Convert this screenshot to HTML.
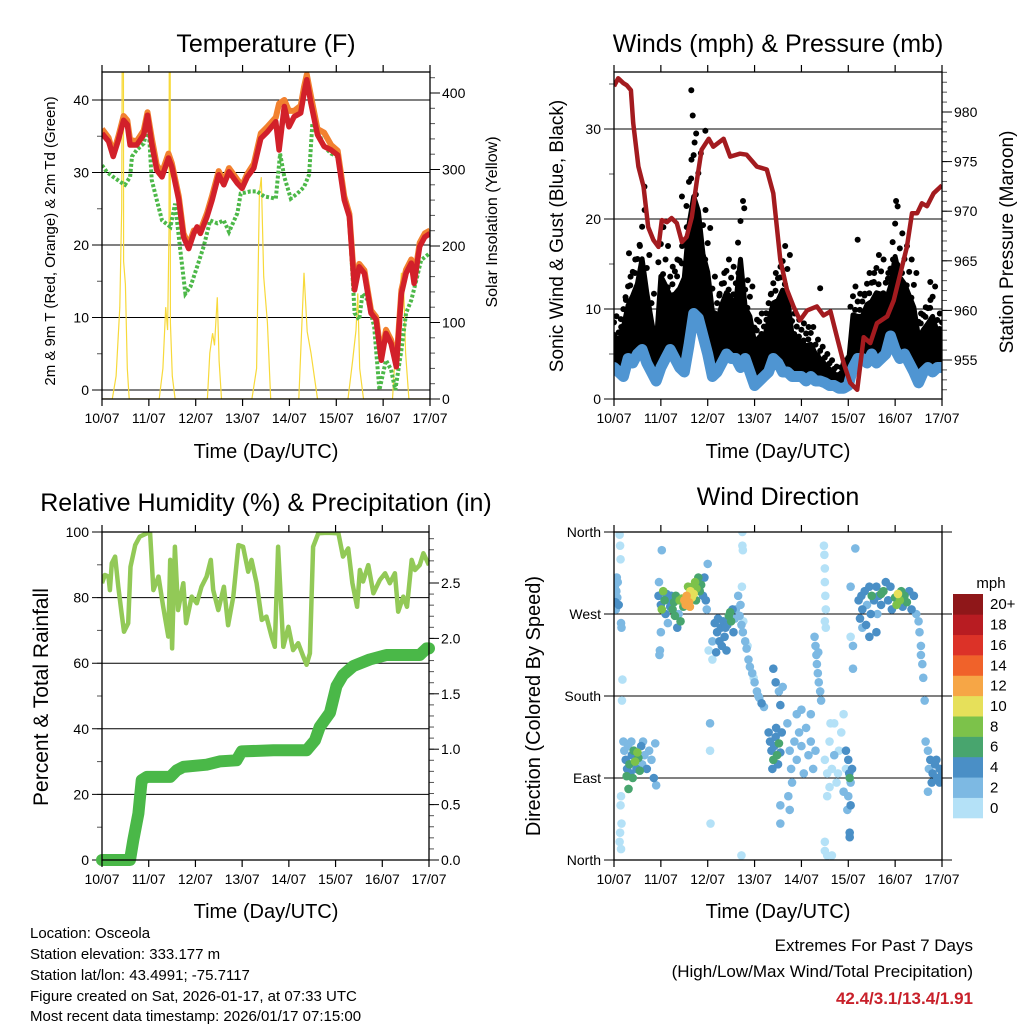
<!DOCTYPE html>
<html><head><meta charset="utf-8"><title>Station Meteogram</title>
<style>
html,body{margin:0;padding:0;background:#fff;}
svg{display:block;font-family:"Liberation Sans",Arial,sans-serif;}
</style></head>
<body>
<svg id="chart" xmlns="http://www.w3.org/2000/svg" width="1024" height="1024" viewBox="0 0 1024 1024">
<rect x="0" y="0" width="1024" height="1024" fill="#fff"/>
<defs>
<clipPath id="c1"><rect x="102" y="72" width="328" height="327"/></clipPath>
<clipPath id="c2"><rect x="614" y="72" width="328" height="327"/></clipPath>
<clipPath id="c3"><rect x="102" y="532" width="327" height="328"/></clipPath>
<clipPath id="c4"><rect x="614" y="532" width="328" height="328"/></clipPath>
</defs>
<g id="layer"></g>
<!-- titles -->
<text x="266" y="52" font-size="25" text-anchor="middle">Temperature (F)</text>
<text x="778" y="52" font-size="25" text-anchor="middle">Winds (mph) &amp; Pressure (mb)</text>
<text x="266" y="511" font-size="25" text-anchor="middle">Relative Humidity (%) &amp; Precipitation (in)</text>
<text x="778" y="505" font-size="25" text-anchor="middle">Wind Direction</text>
<!-- axis titles -->
<text transform="translate(55,241) rotate(-90)" font-size="15" text-anchor="middle">2m &amp; 9m T (Red, Orange) &amp; 2m Td (Green)</text>
<text transform="translate(497,222) rotate(-90)" font-size="16" text-anchor="middle">Solar Insolation (Yellow)</text>
<text x="266" y="458" font-size="20" text-anchor="middle">Time (Day/UTC)</text>
<text transform="translate(563,236) rotate(-90)" font-size="19" text-anchor="middle">Sonic Wind &amp; Gust (Blue, Black)</text>
<text transform="translate(1013,242) rotate(-90)" font-size="19" text-anchor="middle">Station Pressure (Maroon)</text>
<text x="778" y="458" font-size="20" text-anchor="middle">Time (Day/UTC)</text>
<text transform="translate(48,697) rotate(-90)" font-size="21" text-anchor="middle">Percent &amp; Total Rainfall</text>
<text x="266" y="918" font-size="20" text-anchor="middle">Time (Day/UTC)</text>
<text transform="translate(540,706) rotate(-90)" font-size="20" text-anchor="middle">Direction (Colored By Speed)</text>
<text x="778" y="918" font-size="20" text-anchor="middle">Time (Day/UTC)</text>
<text x="991" y="588" font-size="15" text-anchor="middle">mph</text>
<!-- footer -->
<g font-size="15">
<text x="30" y="938">Location: Osceola</text>
<text x="30" y="959">Station elevation: 333.177 m</text>
<text x="30" y="980">Station lat/lon: 43.4991; -75.7117</text>
<text x="30" y="1001">Figure created on Sat, 2026-01-17, at 07:33 UTC</text>
<text x="30" y="1021">Most recent data timestamp: 2026/01/17 07:15:00</text>
</g>
<text x="973" y="951" font-size="17" text-anchor="end">Extremes For Past 7 Days</text>
<text x="973" y="977" font-size="17" text-anchor="end">(High/Low/Max Wind/Total Precipitation)</text>
<text x="973" y="1004" font-size="17" font-weight="bold" fill="#c8202a" text-anchor="end">42.4/3.1/13.4/1.91</text>
</svg>
<script>
const dayLabels = ["10/07","11/07","12/07","13/07","14/07","15/07","16/07","17/07"];
const tempTicks = [0,10,20,30,40];
const solarTicks = [0,100,200,300,400];
const windTicks = [0,10,20,30];
const pressTicks = [955,960,965,970,975,980];
const rhTicks = [0,20,40,60,80,100];
const rainTicks = [0,0.5,1.0,1.5,2.0,2.5];
const dirTicks = [0,90,180,270,360];
const dirNames = ["North","East","South","West","North"];
const speedColors = ["#b4e1f7","#7db9e3","#4a8fc6","#48a56e","#7cc24a","#e6e05a","#f6a646","#f0622a","#dc3228","#b81c22","#8f1719"];
const speedLabels = ["0","2","4","6","8","10","12","14","16","18","20+"];

const tempOrange = [[0,36],[.14,34.8],[.24,32.6],[.35,35],[.46,37.8],[.54,37.2],[.6,34.5],[.74,34.3],[.89,35.8],[.97,38.3],[1.06,34.8],[1.17,31],[1.28,30],[1.42,32.6],[1.49,31.3],[1.64,26.7],[1.74,21.6],[1.85,20],[1.96,22],[2.1,22],[2.24,24.4],[2.35,26.8],[2.49,30.2],[2.6,28.8],[2.71,30.6],[2.89,29],[2.99,28.2],[3.1,29.8],[3.24,31.2],[3.39,35.4],[3.53,36.3],[3.71,37.6],[3.78,39.5],[3.89,40],[3.99,38.5],[4.1,38.5],[4.24,39.2],[4.31,41.8],[4.37,43.5],[4.46,40.5],[4.6,36],[4.74,35.5],[4.89,33.8],[5.03,33],[5.17,26.7],[5.28,24.3],[5.39,14.2],[5.49,17.4],[5.6,16.5],[5.74,11],[5.85,10.1],[5.96,4.6],[6.06,8.3],[6.17,6.9],[6.28,3.6],[6.39,13.8],[6.49,16.6],[6.6,18],[6.66,15.2],[6.78,20.3],[6.89,21.6],[7,22]];
const tempRed = [[0,35.4],[.14,34.3],[.24,32.2],[.35,34.5],[.46,37.2],[.54,36.6],[.6,33.8],[.74,33.8],[.89,35.2],[.97,37.9],[1.06,34.0],[1.17,30.3],[1.28,29.4],[1.42,32.0],[1.49,30.8],[1.64,26.2],[1.74,21.1],[1.85,19.5],[1.96,21.6],[2.03,22.5],[2.1,21.6],[2.24,23.9],[2.35,26.2],[2.49,29.7],[2.6,28.3],[2.71,30.1],[2.89,28.5],[2.99,27.8],[3.1,29.4],[3.24,30.6],[3.39,34.7],[3.53,35.6],[3.71,37.0],[3.78,33.1],[3.89,39.1],[3.99,36.3],[4.1,37.7],[4.24,38.2],[4.31,40.9],[4.37,42.8],[4.46,39.5],[4.6,35.2],[4.74,33.6],[4.89,33.1],[5.03,32.4],[5.17,26.2],[5.28,23.9],[5.39,13.8],[5.49,17.0],[5.6,16.1],[5.74,10.6],[5.85,9.7],[5.96,4.1],[6.06,7.8],[6.17,6.4],[6.28,3.2],[6.39,13.3],[6.49,16.1],[6.6,17.5],[6.66,14.7],[6.78,19.8],[6.89,21.1],[7,21.6]];
const dewGreen = [[0,31.0],[.1,30.1],[.24,29.4],[.39,28.7],[.49,28.3],[.6,29.4],[.64,32.2],[.74,33.1],[.89,34.0],[.99,36.8],[1.06,29.0],[1.17,26.2],[1.28,23.4],[1.46,22.5],[1.56,25.7],[1.67,19.3],[1.78,13.3],[1.89,14.3],[2.03,17.0],[2.17,19.8],[2.31,23.4],[2.46,23.0],[2.6,23.4],[2.71,21.8],[2.89,24.4],[2.96,27.1],[3.17,27.4],[3.31,27.4],[3.46,26.7],[3.71,26.4],[3.8,32.6],[3.89,29.4],[4.03,26.4],[4.17,27.1],[4.31,28.0],[4.42,29.7],[4.49,36.8],[4.6,35.9],[4.74,33.6],[4.89,32.6],[5.03,32.2],[5.17,27.1],[5.28,23.4],[5.39,10.6],[5.49,9.7],[5.56,13.3],[5.67,12.4],[5.81,8.7],[5.92,0],[6.06,4.1],[6.17,2.8],[6.26,0],[6.39,5.5],[6.49,10.6],[6.6,12.4],[6.71,15.2],[6.81,17.9],[7,18.9]];
const solar = [[0,0],[.22,0],[.3,30],[.38,120],[.42,250],[.44,600],[.45,1000],[.46,180],[.5,150],[.54,40],[.58,0],[1.22,0],[1.3,40],[1.36,120],[1.4,90],[1.43,220],[1.45,1000],[1.46,100],[1.5,30],[1.56,0],[2.25,0],[2.3,60],[2.36,86],[2.4,70],[2.46,133],[2.5,50],[2.55,0],[3.2,0],[3.3,40],[3.36,269],[3.4,290],[3.45,160],[3.53,100],[3.6,0],[4.2,0],[4.31,165],[4.38,88],[4.46,60],[4.6,0],[5.25,0],[5.35,51],[5.42,90],[5.46,138],[5.5,40],[5.58,0],[6.2,0],[6.3,100],[6.35,130],[6.39,165],[6.44,140],[6.48,60],[6.55,0],[7,0]];

const pressure = [[0,982.6],[.09,983.4],[.2,982.9],[.27,982.7],[.36,982.2],[.41,978.9],[.52,974.5],[.63,972.5],[.73,968.4],[.84,967.1],[.95,966.4],[1.02,969.1],[1.13,968.9],[1.23,969.3],[1.34,968.8],[1.45,966.9],[1.55,967.4],[1.66,969.4],[1.77,973.1],[1.87,976.2],[2.02,977.3],[2.12,976.5],[2.34,977.3],[2.48,975.5],[2.69,975.8],[2.83,975.7],[3.05,974.5],[3.26,974.2],[3.4,971.8],[3.55,965.1],[3.69,962.1],[3.83,960.4],[3.97,959.0],[4.12,960.0],[4.33,960.4],[4.47,959.5],[4.62,959.9],[4.76,957.3],[4.9,954.7],[5.04,952.7],[5.19,952.0],[5.33,957.3],[5.47,956.7],[5.61,958.7],[5.83,959.4],[5.97,961.0],[6.11,963.7],[6.25,966.4],[6.36,969.8],[6.47,969.8],[6.57,970.8],[6.68,970.5],[6.82,971.8],[7,972.6]];
const windSpeed = [[0,3.5],[.1,3],[.2,2.5],[.3,4.5],[.4,4],[.5,5],[.6,5.5],[.7,4],[.8,3],[.9,2],[1,3.5],[1.1,4.5],[1.2,5.5],[1.3,4.5],[1.4,3.5],[1.5,3],[1.6,6],[1.7,9.5],[1.8,9],[1.9,7],[2,5],[2.1,2.5],[2.2,3],[2.3,4],[2.4,5],[2.5,4.5],[2.6,4.5],[2.7,3.5],[2.8,4.5],[2.9,3],[3,1.5],[3.1,2],[3.2,2.5],[3.3,3],[3.4,4.5],[3.5,4],[3.6,3],[3.7,3],[3.8,2.5],[3.9,2.5],[4,2.5],[4.1,2],[4.2,2.5],[4.3,2],[4.4,2],[4.5,1.8],[4.6,1.5],[4.7,1.5],[4.8,1.2],[4.9,1.2],[5,1.5],[5.1,3.5],[5.2,4.5],[5.3,4.5],[5.4,4],[5.5,5],[5.6,4],[5.7,4.5],[5.8,5],[5.9,7],[6,5.5],[6.1,4.5],[6.2,5],[6.3,4],[6.4,3],[6.5,1.8],[6.6,3],[6.7,3.5],[6.8,3],[6.9,3.5],[7,3.5]];
const windGust = [[0,9.2],[.1,8],[.2,11],[.3,13.6],[.4,15.5],[.5,17],[.6,21],[.7,16],[.8,11.7],[.9,8],[1,19.1],[1.1,17],[1.2,14.7],[1.3,15.5],[1.4,17],[1.5,19.1],[1.6,26.6],[1.7,29.5],[1.8,27.3],[1.9,21],[2,19],[2.1,13.6],[2.2,11.7],[2.3,14],[2.4,15.5],[2.5,14.7],[2.6,14],[2.7,22],[2.8,13.2],[2.9,12.5],[3,8.8],[3.1,9.5],[3.2,8.8],[3.3,11.7],[3.4,14],[3.5,14.7],[3.6,17],[3.7,16],[3.8,9.5],[3.9,8.8],[4,8.4],[4.1,8],[4.2,8],[4.3,6.6],[4.4,5.8],[4.5,5],[4.6,4.3],[4.7,3.6],[4.8,2.9],[4.9,4.3],[5,5],[5.1,12.5],[5.2,11.7],[5.3,11.7],[5.4,14],[5.5,14],[5.6,16],[5.7,15.5],[5.8,14],[5.9,15.5],[6,21.4],[6.1,18.4],[6.2,17],[6.3,15.5],[6.4,14],[6.5,9.5],[6.6,10.2],[6.7,11],[6.8,12.5],[6.9,9.5],[7,9.2]];
const gustOutliers = [[.65,23.6],[.32,16.2],[1.45,22.5],[1.65,34.3],[1.68,31.5],[1.72,28.5],[1.95,29.8],[2.78,21.2],[4.4,12.3],[5.2,17.7],[6.02,22],[6.75,13]];

const rh = [[0,84.4],[.06,86.9],[.14,86.4],[.17,82.3],[.21,90.5],[.28,92.5],[.35,83.3],[.42,75.2],[.47,69.6],[.56,72.2],[.61,89.4],[.71,96.0],[.81,98.6],[.96,99.6],[1.03,99.6],[1.1,82.3],[1.21,86.4],[1.31,77.2],[1.42,68.1],[1.46,91.5],[1.5,64.5],[1.56,95.5],[1.63,76.2],[1.74,84.4],[1.8,72.2],[1.92,80.3],[2.03,78.3],[2.13,83.3],[2.24,86.4],[2.33,91.5],[2.38,82.3],[2.49,76.2],[2.61,83.3],[2.7,71.6],[2.81,80.3],[2.92,96.0],[3.02,95.5],[3.13,87.9],[3.2,91.5],[3.31,84.4],[3.42,73.2],[3.52,74.2],[3.63,68.1],[3.7,65.0],[3.77,95.5],[3.88,65.0],[3.99,71.1],[4.09,64.0],[4.2,66.1],[4.31,62.0],[4.38,59.5],[4.45,63.0],[4.52,95.5],[4.63,99.6],[4.81,99.8],[5.06,99.6],[5.16,92.5],[5.27,95.0],[5.36,84.4],[5.46,77.2],[5.52,88.4],[5.59,84.9],[5.7,89.9],[5.81,81.3],[5.95,85.4],[6.06,87.4],[6.16,84.4],[6.27,87.4],[6.34,75.7],[6.45,80.3],[6.53,77.2],[6.63,91.5],[6.7,88.4],[6.8,89.9],[6.88,93.5],[7,89.9]];
const rain = [[0,0],[.6,0],[.67,.18],[.78,.42],[.85,.72],[.96,.75],[1.46,.75],[1.6,.81],[1.74,.84],[2.24,.86],[2.52,.89],[2.88,.9],[2.99,.98],[3.67,.99],[4.38,.99],[4.56,1.08],[4.66,1.2],[4.88,1.33],[5.02,1.57],[5.16,1.67],[5.38,1.75],[5.73,1.81],[6.09,1.85],[6.8,1.85],[6.95,1.91],[7,1.91]];

const dirTime = [0,.02,.03,.05,.07,.08,.1,.04,.06, .12,.13,.14,.15,.16,.18,.17,.15,.14,.13,.12,.15,.16,
.2,.22,.25,.28,.3,.33,.35,.38,.4,.42,.45,.48,.5,.52,.55,.58,.6,.62,.65,.7,.75,.8,.85,.88,.9,.27,.31,.37,
.95,1,1.02,1.05,1.08,1.1,1.12,1.15,1.18,1.2,1.22,1.25,1.28,1.3,1.32,1.35,1.38,1.4,1.42,1.45,1.48,1,.98,.97,1.02,.96,
1.5,1.55,1.6,1.63,1.68,1.7,1.73,1.76,1.8,1.83,1.86,1.9,1.93,1.96,1.98,1.53,1.58,1.66,1.75,1.62,
2,2.02,2.05,2.05,2.06,2.1,2.1,
2.15,2.2,2.22,2.25,2.28,2.3,2.33,2.36,2.4,2.42,2.45,2.48,2.5,2.53,2.55,2.58,2.18,2.38,
2.6,2.65,2.68,2.72,2.75,2.8,2.83,2.87,2.9,2.95,3,3.05,3.1,3.15,3.2,2.7,2.76,2.85,2.98,3.08,
2.74,2.74,2.75,2.73,2.72,
3.3,3.33,3.36,3.4,3.42,3.45,3.48,3.5,3.52,3.55,3.58,3.38,3.46,
3.4,3.45,3.52,3.55,3.6,3.55,3.55,3.52,
3.7,3.75,3.78,3.8,3.85,3.9,3.95,4,4.05,4.1,4.15,4.2,4.25,4.3,3.72,3.75,3.9,4,4.2,
4.28,4.3,4.32,4.33,4.35,4.37,4.4,4.42,4.36,
4.48,4.49,4.5,4.5,4.51,4.52,4.5,4.52,
4.5,4.55,4.6,4.65,4.7,4.75,4.8,4.85,4.9,4.95,4.6,4.7,4.55,4.62,4.78,4.9,
4.95,5,5.02,5.05,5,5.05,5.08,4.98,5.03,
4.5,4.5,4.55,4.65,5.03,5.03,5.05,5.05,5.1,5.1,5.15,
5.22,5.25,5.28,5.3,5.35,5.38,5.4,5.45,5.48,5.5,5.55,5.6,5.62,5.65,5.7,5.75,5.8,5.85,5.9,5.93,5.6,5.45,5.3,5.7,
6,6.03,6.06,6.1,6.13,6.16,6.2,6.25,6.3,6.35,6.4,6.45,6.5,6.52,6.55,6.55,6.58,6.6,6.63,
6.65,6.7,6.72,6.75,6.8,6.85,6.9,6.95,7,6.78,6.88,6.7,6.95];
const dirDeg = [290,300,283,295,288,305,280,275,310, 357,345,330,260,255,198,175,70,60,30,20,12,40,
130,120,110,100,125,105,95,115,90,120,108,100,118,112,98,125,105,130,115,100,120,110,90,128,82,92,78,130,
290,280,275,295,285,270,292,260,285,278,290,275,283,268,290,255,270,285,262,287,278,250,230,225,340,305,
285,290,283,295,300,292,305,298,310,295,302,290,310,285,275,280,300,288,285,278,
325,230,150,120,40,240,220,
260,250,265,240,255,235,262,245,230,258,268,272,262,275,250,265,228,255,
275,290,268,258,250,240,232,220,212,205,195,185,178,172,168,280,262,235,200,180,
360,345,340,300,5,
140,130,120,110,125,135,115,105,128,118,140,100,145,
210,195,185,170,190,60,40,140,
150,120,100,85,130,110,140,125,95,145,115,130,100,120,70,55,160,165,160,
245,235,225,215,205,195,185,175,228,
345,335,320,305,290,275,262,255,
110,95,130,100,150,85,120,140,160,100,80,115,70,150,95,75,
120,110,95,85,70,60,100,55,90,
20,10,5,5,30,25,300,245,235,210,342,
285,265,290,275,295,258,280,300,270,290,285,300,270,290,280,295,305,285,300,275,250,245,255,292,
288,280,292,285,295,278,290,283,295,275,290,270,262,250,235,225,215,200,175,
130,120,100,110,95,105,90,100,95,85,110,75,85];
const dirSpeed = [2,2,4,3,2,3,4,2,2, 0,1,1,2,2,0,0,0,1,0,0,0,0,
2,3,4,4,3,6,5,4,6,7,8,4,8,7,6,4,3,2,3,4,3,3,4,2,3,6,6,3,
4,5,8,9,6,4,4,3,4,4,5,6,7,6,6,5,3,8,6,8,7,2,2,2,2,3,
12,12,12,10,9,10,8,8,7,6,6,4,4,4,3,12,8,11,6,12,
3,1,2,1,1,2,1,
4,4,4,4,4,4,4,4,4,5,6,6,6,5,4,3,4,4,
2,2,2,2,2,2,2,2,2,2,2,2,2,4,2,2,1,1,1,2,
1,1,1,1,1,
4,4,4,6,4,4,6,4,6,4,4,4,4,
4,4,2,4,2,2,2,2,
2,2,2,2,2,2,2,2,2,2,2,2,2,2,2,2,2,2,2,
2,2,2,2,2,2,2,2,2,
0,1,0,0,0,0,1,1,
0,0,0,0,0,0,0,0,0,0,0,2,0,0,0,2,
4,4,4,3,3,4,4,3,6,
1,1,1,1,4,4,3,1,3,3,3,
4,4,5,4,4,4,3,4,4,6,5,4,3,4,4,6,5,4,4,4,4,4,3,6,
7,8,10,8,6,4,7,6,5,4,4,3,3,3,2,2,2,2,2,
2,3,3,4,4,4,4,4,4,4,4,2,4];

const NS = "http://www.w3.org/2000/svg";
const layer = document.getElementById("layer");
function mk(tag, attrs, name, parent) {
  const el = document.createElementNS(NS, tag);
  for (const k in attrs) el.setAttribute(k, attrs[k]);
  
  
  (parent || layer).appendChild(el);
  return el;
}
function txt(x, y, s, anchor, size, name) {
  const t = mk("text", {x: x, y: y, "font-size": size || 14, "text-anchor": anchor || "middle"}, name);
  t.textContent = s;
  return t;
}
function pathD(pts, fx, fy) {
  return pts.map((p, i) => (i ? "L" : "M") + fx(p[0]).toFixed(1) + "," + fy(p[1]).toFixed(1)).join("");
}

const P = {
  p1: {x0: 102, x1: 430, y0: 72, y1: 399},
  p2: {x0: 614, x1: 942, y0: 72, y1: 399},
  p3: {x0: 102, x1: 429, y0: 532, y1: 860},
  p4: {x0: 614, x1: 942, y0: 532, y1: 860}
};
const x1s = d => P.p1.x0 + d * (P.p1.x1 - P.p1.x0) / 7;
const x2s = d => P.p2.x0 + d * (P.p2.x1 - P.p2.x0) / 7;
const x3s = d => P.p3.x0 + d * (P.p3.x1 - P.p3.x0) / 7;
const x4s = d => P.p4.x0 + d * (P.p4.x1 - P.p4.x0) / 7;
const yTemp = v => 390 - v * 7.25;
const ySolar = v => 399 - v * 0.765;
const yWind = v => 399 - v * 9;
const yPress = v => 360 - (v - 955) * 9.92;
const yRH = v => 860 - v * 3.28;
const yRain = v => 860 - v * 110.8;
const yDir = v => 860 - v * (328 / 360);

function frame(p, name, xs) {
  mk("rect", {x: p.x0, y: p.y0, width: p.x1 - p.x0, height: p.y1 - p.y0, fill: "none", stroke: "#000", "stroke-width": 1.3}, name + "-frame");
  dayLabels.forEach((lab, i) => {
    const x = xs(i);
    mk("line", {x1: x, y1: p.y1, x2: x, y2: p.y1 + 7, stroke: "#000", "stroke-width": 1.2}, name + "-x-tick");
    mk("line", {x1: x, y1: p.y0, x2: x, y2: p.y0 - 7, stroke: "#000", "stroke-width": 1.2}, name + "-x-tick-top");
    txt(x, p.y1 + 24, lab, "middle", 14, name + "-x-tick-label");
  });
}
function leftAxis(p, ticks, fy, labels, name, minorStep, lo, hi) {
  if (minorStep) for (let v = lo; v <= hi + 1e-9; v += minorStep) {
    const y = fy(v); if (y < p.y0 - 0.5 || y > p.y1 + 0.5) continue;
    mk("line", {x1: p.x0 - 5, y1: y, x2: p.x0, y2: y, stroke: "#555", "stroke-width": 1}, name + "-minor-tick");
  }
  ticks.forEach((v, i) => {
    const y = fy(v);
    mk("line", {x1: p.x0 - 10, y1: y, x2: p.x1, y2: y, stroke: "#000", "stroke-width": 1}, name + "-gridline");
    txt(p.x0 - 13, y + 5, labels ? labels[i] : String(v), "end", 14, name + "-tick-label");
  });
}
function rightAxis(p, ticks, fy, fmt, name, minorStep, lo, hi) {
  for (let v = lo; v <= hi + 1e-9; v += minorStep) {
    const y = fy(v); if (y < p.y0 - 0.5 || y > p.y1 + 0.5) continue;
    mk("line", {x1: p.x1, y1: y, x2: p.x1 + 5, y2: y, stroke: "#555", "stroke-width": 1}, name + "-minor-tick");
  }
  ticks.forEach(v => {
    const y = fy(v);
    mk("line", {x1: p.x1, y1: y, x2: p.x1 + 10, y2: y, stroke: "#000", "stroke-width": 1}, name + "-major-tick");
    txt(p.x1 + 12, y + 5, fmt(v), "start", 14, name + "-tick-label");
  });
}

// Panel 1
(function () {
  const p = P.p1;
  leftAxis(p, tempTicks, yTemp, null, "temp-axis", 5, -5, 45);
  rightAxis(p, solarTicks, ySolar, v => String(v), "solar-axis", 20, 0, 420);
  const g = mk("g", {"clip-path": "url(#c1)"}, "temperature-series");
  mk("path", {d: pathD(solar, x1s, ySolar), fill: "none", stroke: "#f7d93a", "stroke-width": 1.2}, "solar-line", g);
  mk("path", {d: pathD(dewGreen, x1s, yTemp), fill: "none", stroke: "#4cb848", "stroke-width": 4, "stroke-dasharray": "3 2"}, "dewpoint-2m-line", g);
  mk("path", {d: pathD(tempOrange, x1s, yTemp), fill: "none", stroke: "#f2812f", "stroke-width": 6, "stroke-linejoin": "round"}, "temp-9m-line", g);
  mk("path", {d: pathD(tempRed, x1s, yTemp), fill: "none", stroke: "#d2202a", "stroke-width": 5.5, "stroke-linejoin": "round"}, "temp-2m-line", g);
  frame(p, "temperature", x1s);
})();

// Panel 2
(function () {
  const p = P.p2;
  leftAxis(p, windTicks, yWind, null, "wind-axis", 5, 0, 35);
  rightAxis(p, pressTicks, yPress, v => String(v), "pressure-axis", 1, 952, 984);
  const g = mk("g", {"clip-path": "url(#c2)"}, "winds-series");
  // dense part of the gust cloud: from sonic wind up to ~65% of the way to the gust
  const top = windGust.map((q, i) => x2s(q[0]).toFixed(1) + "," + yWind(windSpeed[i][1] + 0.65 * (q[1] - windSpeed[i][1])).toFixed(1));
  const bot = windSpeed.slice().reverse().map(q => x2s(q[0]).toFixed(1) + "," + yWind(q[1]).toFixed(1));
  mk("polygon", {points: top.concat(bot).join(" "), fill: "#000", stroke: "#000", "stroke-width": 5, "stroke-linejoin": "round"}, "gust-cloud", g);
  windGust.forEach((q, i) => {
    const w = windSpeed[i][1];
    [0.75, 0.88, 1].forEach((f, k) => {
      mk("circle", {cx: x2s(q[0]) + (k - 1) * 2.5, cy: yWind(w + f * (q[1] - w)), r: 3, fill: "#000"}, "gust-point", g);
    });
  });
  gustOutliers.forEach(q => {
    mk("circle", {cx: x2s(q[0]), cy: yWind(q[1]), r: 3, fill: "#000"}, "gust-outlier", g);
  });
  mk("path", {d: pathD(windSpeed, x2s, yWind), fill: "none", stroke: "#4f95d2", "stroke-width": 11, "stroke-linejoin": "round", "stroke-linecap": "round"}, "sonic-wind-band", g);
  mk("path", {d: pathD(pressure, x2s, yPress), fill: "none", stroke: "#a31b1f", "stroke-width": 4.5, "stroke-linejoin": "round"}, "pressure-line", g);
  frame(p, "winds", x2s);
})();

// Panel 3
(function () {
  const p = P.p3;
  leftAxis(p, rhTicks, yRH, null, "rh-axis", 10, 0, 100);
  rightAxis(p, rainTicks, yRain, v => v.toFixed(1), "rain-axis", 0.1, 0, 2.95);
  const g = mk("g", {"clip-path": "url(#c3)"}, "humidity-series");
  mk("path", {d: pathD(rh, x3s, yRH), fill: "none", stroke: "#92c957", "stroke-width": 4.5, "stroke-linejoin": "round"}, "rh-line", g);
  mk("path", {d: pathD(rain, x3s, yRain), fill: "none", stroke: "#4ab848", "stroke-width": 12, "stroke-linejoin": "round", "stroke-linecap": "round"}, "rain-total-line", layer);
  frame(p, "humidity", x3s);
})();

// Panel 4
(function () {
  const p = P.p4;
  leftAxis(p, dirTicks, yDir, dirNames, "direction-axis", 0, 0, 0);
  dirTicks.forEach(v => {
    mk("line", {x1: p.x1, y1: yDir(v), x2: p.x1 + 10, y2: yDir(v), stroke: "#000", "stroke-width": 1}, "direction-right-tick");
  });
  const g = mk("g", {"clip-path": "url(#c4)"}, "direction-series");
  const order = dirTime.map((t, i) => i).sort((a, b) => dirSpeed[a] - dirSpeed[b]);
  order.forEach(i => {
    const bin = Math.min(10, Math.floor(dirSpeed[i] / 2));
    mk("circle", {cx: x4s(dirTime[i]), cy: yDir(dirDeg[i]), r: 4.3, fill: speedColors[bin]}, "direction-point", g);
  });
  frame(p, "direction", x4s);
  const cbTop = 594, cbH = 224 / speedColors.length;
  speedColors.forEach((c, i) => {
    const y = cbTop + (speedColors.length - 1 - i) * cbH;
    mk("rect", {x: 953, y: y, width: 30, height: cbH + 0.3, fill: c}, "colorbar-bin", layer);
    txt(990, y + cbH / 2 + 5, speedLabels[i], "start", 15, "colorbar-label");
  });
})();
</script>
</body></html>
